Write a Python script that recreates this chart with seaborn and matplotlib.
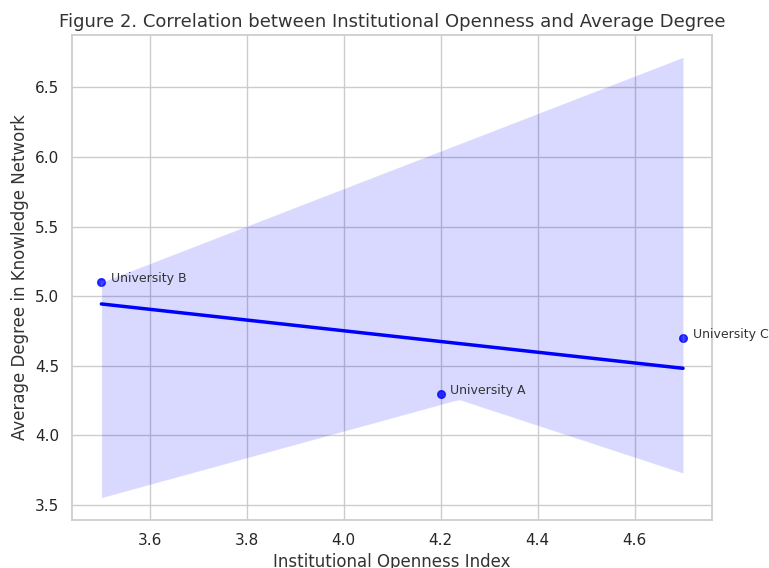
import matplotlib
matplotlib.use("Agg")
import matplotlib.pyplot as plt
import seaborn as sns
import pandas as pd

# Institutional openness vs. average degree for the three universities
universities = ["University A", "University B", "University C"]
openness = [4.2, 3.5, 4.7]
avg_degree = [4.3, 5.1, 4.7]

df = pd.DataFrame({"University": universities,
                   "Openness": openness,
                   "Degree": avg_degree})

sns.set_theme(style="whitegrid")
plt.rcParams['font.family'] = ['DejaVu Sans']

fig = plt.figure(figsize=(7.69, 5.68), dpi=100)
ax = fig.add_axes([0.094, 0.085, 0.832, 0.853])

sns.regplot(x="Openness", y="Degree", data=df, ax=ax, color="blue",
            ci=95, seed=42, scatter_kws={"s": 30}, line_kws={"lw": 2.5})

# label each point
for i in range(len(df)):
    ax.text(df["Openness"][i] + 0.02, df["Degree"][i], df["University"][i],
            fontsize=9, color="#333333")

ax.set_title("Figure 2. Correlation between Institutional Openness and Average Degree",
             fontsize=13, color="#333333")
ax.set_xlabel("Institutional Openness Index", fontsize=12, color="#333333")
ax.set_ylabel("Average Degree in Knowledge Network", fontsize=12, color="#333333")
ax.tick_params(labelsize=11)

fig.savefig("out.png", dpi=100)
